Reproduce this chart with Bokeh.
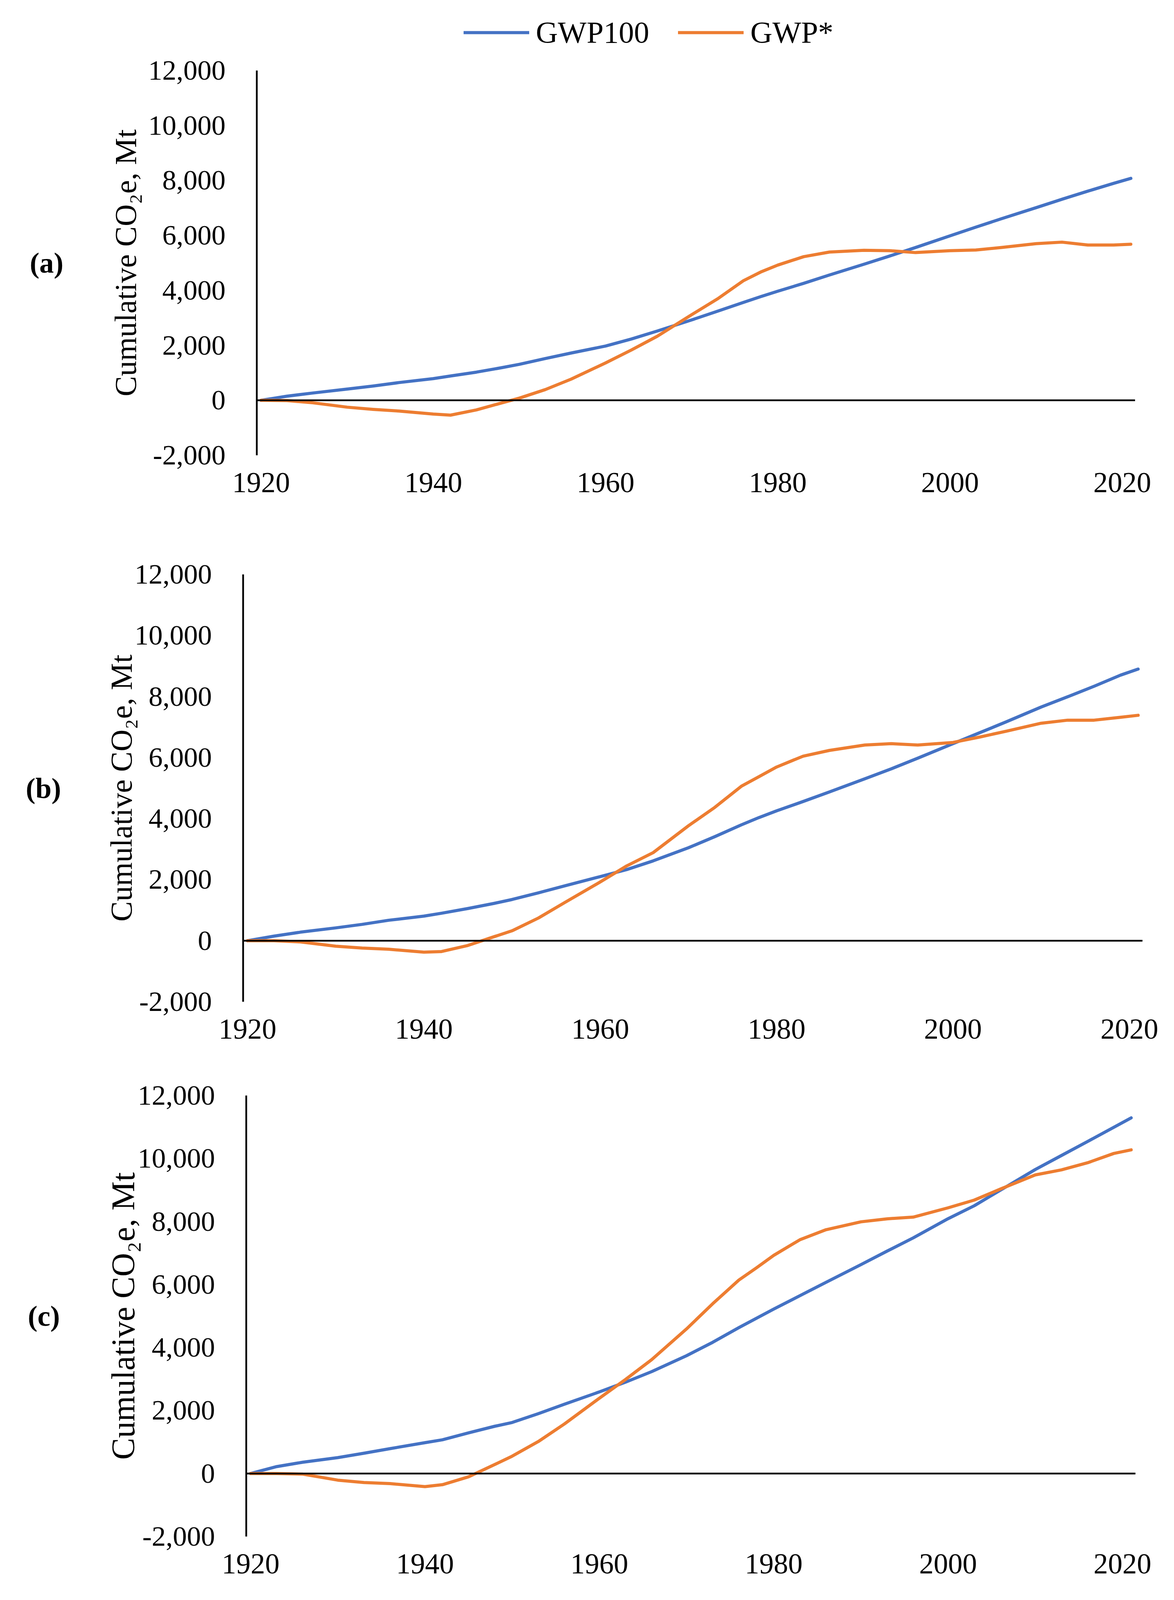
from bokeh.plotting import figure
from bokeh.models import (Range1d, FixedTicker, NumeralTickFormatter, Span,
                          Legend, LegendItem, LinearAxis)
from bokeh.layouts import column, row
from bokeh.embed import file_html
from bokeh.resources import INLINE

# ---------------- data ----------------
years = [1920, 1923, 1926, 1930, 1933, 1936, 1940, 1942, 1945, 1948,
         1950, 1953, 1956, 1960, 1963, 1966, 1970, 1973, 1976, 1978,
         1980, 1983, 1986, 1990, 1993, 1996, 2000, 2003, 2006, 2010,
         2013, 2016, 2019, 2021]

a_gwp100 = [0, 150, 265, 410, 520, 645, 790, 885, 1025, 1190,
            1310, 1520, 1720, 1975, 2230, 2520, 2925, 3240, 3560, 3770,
            3970, 4255, 4560, 4950, 5250, 5560, 5985, 6300, 6610, 7010,
            7315, 7610, 7895, 8075]
a_gwpstar = [0, -10, -90, -250, -330, -390, -500, -540, -350, -90,
             80, 390, 770, 1360, 1830, 2330, 3115, 3690, 4350, 4665,
             4920, 5225, 5395, 5460, 5445, 5375, 5445, 5470, 5560, 5700,
             5755, 5650, 5650, 5680]

b_gwp100 = [0, 150, 280, 420, 535, 670, 805, 900, 1055, 1225,
            1350, 1570, 1800, 2100, 2330, 2615, 3045, 3410, 3795, 4035,
            4255, 4560, 4875, 5305, 5630, 5980, 6455, 6810, 7165, 7655,
            7990, 8335, 8700, 8900]
b_gwpstar = [0, 0, -40, -180, -240, -280, -375, -355, -155, 135,
             325, 745, 1255, 1925, 2450, 2885, 3765, 4370, 5060, 5375,
             5690, 6045, 6235, 6410, 6455, 6410, 6495, 6670, 6860, 7125,
             7225, 7225, 7320, 7385]

c_gwp100 = [0, 220, 360, 505, 645, 790, 980, 1070, 1290, 1500,
            1620, 1900, 2200, 2590, 2900, 3235, 3740, 4165, 4630, 4925,
            5220, 5645, 6070, 6630, 7060, 7480, 8090, 8500, 8995, 9650,
            10095, 10540, 10990, 11290]
c_gwpstar = [0, 0, -20, -210, -285, -320, -415, -355, -105, 285,
             550, 1015, 1575, 2390, 2985, 3615, 4590, 5390, 6140, 6525,
             6925, 7420, 7740, 7990, 8085, 8140, 8435, 8680, 9030, 9480,
             9640, 9865, 10160, 10275]

x_ticks = [1920, 1940, 1960, 1980, 2000, 2020]
y_ticks = [-2000, 0, 2000, 4000, 6000, 8000, 10000, 12000]
series_names = ["GWP100", "GWP*"]
panel_tags = ["(a)", "(b)", "(c)"]
y_title = "Cumulative CO\u2082e, Mt"

BLUE = "#4472C4"
ORANGE = "#ED7D31"
FONT = "Liberation Serif"
W = 2990
LW = 8


def make_panel(height, b_top, b_bottom, b_left, b_right, g100, gstar, tag,
               title_size, title_standoff, tag_standoff):
    p = figure(width=W, height=height,
               x_range=Range1d(1919.5, 2021.5), y_range=Range1d(-2000, 12000),
               output_backend="svg", toolbar_location=None,
               min_border_top=b_top, min_border_bottom=b_bottom,
               min_border_left=b_left, min_border_right=b_right)
    p.grid.visible = False
    p.outline_line_color = None
    p.background_fill_color = "white"
    p.border_fill_color = "white"

    xa = p.xaxis[0]
    xa.ticker = FixedTicker(ticks=x_ticks)
    xa.axis_line_color = None
    xa.major_tick_line_color = None
    xa.minor_tick_line_color = None
    xa.major_tick_out = 0
    xa.minor_tick_out = 0
    xa.major_label_standoff = 45
    xa.major_label_text_font = FONT
    xa.major_label_text_font_size = "74px"
    xa.major_label_text_color = "black"

    ya = p.yaxis[0]
    ya.ticker = FixedTicker(ticks=y_ticks)
    ya.formatter = NumeralTickFormatter(format="0,0")
    ya.axis_line_color = "black"
    ya.axis_line_width = 4.5
    ya.major_tick_line_color = None
    ya.minor_tick_line_color = None
    ya.major_tick_out = 0
    ya.minor_tick_out = 0
    ya.major_label_standoff = 80
    ya.major_label_text_font = FONT
    ya.major_label_text_font_size = "72px"
    ya.major_label_text_color = "black"
    ya.axis_label = y_title
    ya.axis_label_text_font = FONT
    ya.axis_label_text_font_size = title_size
    ya.axis_label_text_font_style = "normal"
    ya.axis_label_text_color = "black"
    ya.axis_label_standoff = title_standoff

    # panel tag "(a)" etc. as a horizontal title on an extra, empty left axis
    tag_axis = LinearAxis(ticker=FixedTicker(ticks=[]), axis_label=tag,
                          axis_label_orientation="horizontal",
                          axis_label_standoff=tag_standoff,
                          axis_label_text_font=FONT,
                          axis_label_text_font_size="74px",
                          axis_label_text_font_style="bold",
                          axis_label_text_color="black",
                          axis_line_color=None, major_tick_line_color=None,
                          minor_tick_line_color=None, major_tick_out=0,
                          minor_tick_out=0, major_label_standoff=0,
                          major_label_text_font_size="0px")
    p.add_layout(tag_axis, "left")

    p.add_layout(Span(location=0, dimension="width", line_color="black",
                      line_width=4.5))

    p.line(years, g100, line_color=BLUE, line_width=LW,
           line_join="round", line_cap="round")
    p.line(years, gstar, line_color=ORANGE, line_width=LW,
           line_join="round", line_cap="round")
    return p


# ---- legend strip on top (series drawn outside its view, only the legend shows)
pl = figure(width=W, height=130, x_range=Range1d(0, 1), y_range=Range1d(0, 1),
            output_backend="svg", toolbar_location=None,
            min_border_top=0, min_border_bottom=0, min_border_left=657,
            min_border_right=84)
pl.xaxis.visible = False
pl.yaxis.visible = False
pl.grid.visible = False
pl.outline_line_color = None
lr1 = pl.line(years, a_gwp100, line_color=BLUE, line_width=LW, line_cap="round")
lr2 = pl.line(years, a_gwpstar, line_color=ORANGE, line_width=LW, line_cap="round")
legend = Legend(items=[LegendItem(label=series_names[0], renderers=[lr1]),
                       LegendItem(label=series_names[1], renderers=[lr2])],
                orientation="horizontal", location=(530, 2),
                padding=0, margin=0, spacing=74, label_standoff=17,
                glyph_width=168, glyph_height=90, label_height=90,
                label_text_font=FONT, label_text_font_size="78px",
                label_text_color="black", border_line_color=None,
                background_fill_alpha=0)
pl.add_layout(legend, "center")

pa = make_panel(1192, 50, 157, 657, 84, a_gwp100, a_gwpstar,
                panel_tags[0], "78px", 12, 112)
pb = make_panel(1390, 148, 148, 622, 65, b_gwp100, b_gwpstar,
                panel_tags[1], "78px", -12, 107)
pc = make_panel(1360, 92, 139, 630, 83, c_gwp100, c_gwpstar,
                panel_tags[2], "84px", -12, 112)

layout = column(row(pl), row(pa), row(pb), row(pc), spacing=0)
open("out.html", "w").write(file_html(layout, INLINE))
